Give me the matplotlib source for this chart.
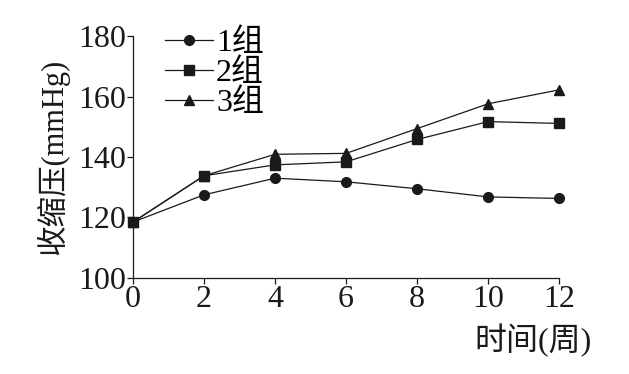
import matplotlib
matplotlib.use("Agg")
import matplotlib.pyplot as plt

# ── Data ──────────────────────────────────────────────────────────────────────
weeks = [0, 2, 4, 6, 8, 10, 12]
group1 = [118.5, 127.5, 133.0, 131.8, 129.5, 126.8, 126.3]
group2 = [118.5, 133.8, 137.4, 138.4, 145.8, 151.7, 151.1]
group3 = [118.5, 133.8, 140.9, 141.2, 149.4, 157.6, 162.2]
series_labels = ["1组", "2组", "3组"]
y_ticks = [100, 120, 140, 160, 180]
x_ticks = [0, 2, 4, 6, 8, 10, 12]

FONT = ["Liberation Serif", "Noto Sans CJK SC"]
plt.rcParams["font.family"] = FONT
FS = 23

fig = plt.figure(figsize=(6.29, 3.74), dpi=100, facecolor="white")
ax = fig.add_axes([0.2115, 0.2567, 0.889 - 0.2115, 0.9037 - 0.2567])

styles = [("o", 7), ("s", 7.5), ("^", 6.5)]
for vals, label, (mk, ms) in zip([group1, group2, group3], series_labels, styles):
    ax.plot(weeks, vals, color="#1a1a1a", linewidth=0.9, marker=mk,
            markersize=ms, label=label, clip_on=False, zorder=3)

ax.set_xlim(0, 12)
ax.set_ylim(100, 180)
ax.set_xticks(x_ticks)
ax.set_yticks(y_ticks)
ax.tick_params(direction="out", length=4, width=0.9, labelsize=FS,
               colors="#1a1a1a", pad=1)
for s in ["top", "right"]:
    ax.spines[s].set_visible(False)
for s in ["left", "bottom"]:
    ax.spines[s].set_linewidth(0.9)
    ax.spines[s].set_color("#1a1a1a")

ax.set_ylabel("收缩压(mmHg)", fontsize=22, color="#1a1a1a")
ax.yaxis.set_label_coords(-0.15, 0.5)
fig.text(0.94, 0.09, "时间(周)", fontsize=FS, color="#1a1a1a",
         ha="right", va="center")

leg = ax.legend(loc="upper left", bbox_to_anchor=(0.045, 1.082), frameon=False,
                fontsize=FS, handlelength=1.5, handletextpad=0.1,
                labelspacing=0.02, borderaxespad=0)

fig.savefig("out.png", dpi=100, facecolor="white")
